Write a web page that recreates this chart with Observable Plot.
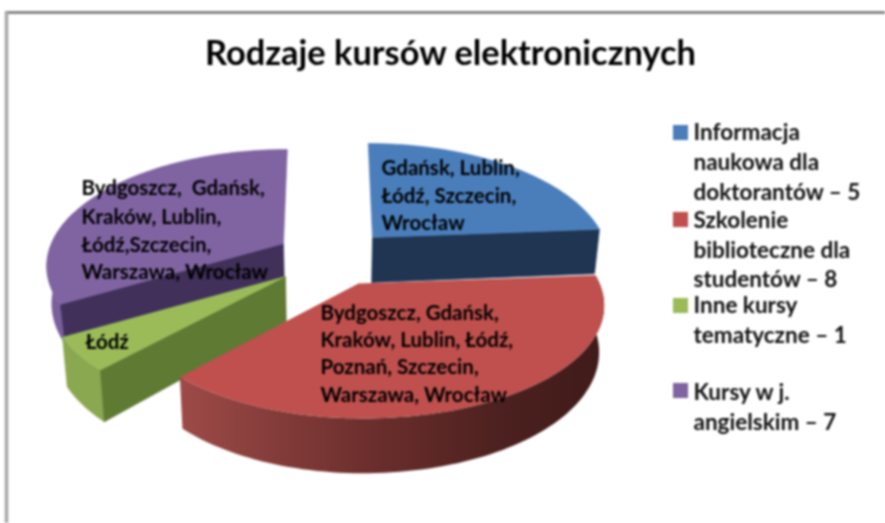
<!DOCTYPE html>
<html><head><meta charset="utf-8">
<script src="https://cdn.jsdelivr.net/npm/d3@7"></script>
<script src="https://cdn.jsdelivr.net/npm/@observablehq/plot@0.6"></script>
<style>html,body{margin:0;padding:0;background:#fff;overflow:hidden}</style>
</head><body><div id="chart"></div>
<script>
const courseValues = [5, 8, 1, 7];
const titleText = "Rodzaje kursów elektronicznych";
const sliceLabels = [
  ["Gdańsk, Lublin,", "Łódź, Szczecin,", "Wrocław"],
  ["Bydgoszcz, Gdańsk,", "Kraków, Lublin, Łódź,", "Poznań, Szczecin,", "Warszawa, Wrocław"],
  ["Łódź"],
  ["Bydgoszcz,\u00a0 Gdańsk,", "Kraków, Lublin,", "Łódź,Szczecin,", "Warszawa, Wrocław"]
];
const legendLabels = [
  ["Informacja", "naukowa dla", "doktorantów – 5"],
  ["Szkolenie", "biblioteczne dla", "studentów – 8"],
  ["Inne kursy", "tematyczne – 1"],
  ["Kursy w j.", "angielskim – 7"]
];
// styles
const topColors = ["#4a7ebb", "#bf504d", "#9bbb59", "#8064a2"];
const wallColors = ["#1f3552", "#6f302e", "#5f7a33", "#40305a"];
const outerColors = [null, null, "#8aa84f", "#7a5f9c"];
const redWallStops = [[182, "#9c4a47"], [358, "#6e302e"], [500, "#4c211f"], [603, "#3f1b19"]];
// layout
const apexX = [372, 358, 285, 283], apexY = [237, 283, 276, 243];
const radiusRight = [231, 241, 232, 232], radiusLeft = [231, 232, 232, 232];
const wallDepth = [45, 45, 45, 36];
const centerX = 325, persp = 5.59, radiusY = 110.8;
const labelX = [381, 320, 85, 81];
const labelY = [[168, 196, 223], [313, 340, 367, 395], [342], [188, 217, 245, 272]];
const legendY = [[132, 162, 192], [220, 250, 279], [305, 335], [392, 422]];
const swatchY = [132, 219, 305, 390];
const drawOrder = [3, 0, 2];

const arcs = d3.pie().sort(null).startAngle(0).endAngle(2 * Math.PI)(courseValues);

function rim(i, t) {
  const Z = Math.cos(t), S = Math.sin(t), f = persp / (persp + Z);
  const rx = S >= 0 ? radiusRight[i] : radiusLeft[i];
  return {
    x: apexX[i] + (apexX[i] - centerX) * (f - 1) * 0.6 + rx * S * f,
    y: apexY[i] - radiusY * Z * f, f
  };
}
const lower = i => p => ({x: p.x + (centerX - p.x) * 0.018, y: p.y + wallDepth[i] * p.f});
const apex = i => ({x: apexX[i], y: apexY[i], f: 1});
const rimPoints = i => {
  const a0 = arcs[i].startAngle, a1 = arcs[i].endAngle, n = 90;
  return d3.range(n + 1).map(k => rim(i, a0 + (a1 - a0) * k / n));
};

const polys = [];
let pid = 0;
function poly(points, color, list = polys) {
  const id = pid++;
  [...points, points[0]].forEach(p => list.push({id, x: p.x, y: p.y, color}));
}

for (const i of drawOrder) {
  const top = rimPoints(i), ap = apex(i), low = lower(i), n = top.length - 1;
  if (i === 3) {
    const part = top.slice(0, 36);
    poly([...part, ...part.map(low).reverse()], outerColors[3]);
    poly([ap, top[0], low(top[0]), low(ap)], wallColors[3]);
  }
  if (i === 0) poly([ap, top[n], low(top[n]), low(ap)], wallColors[0]);
  if (i === 2) {
    poly([...top, ...top.map(low).reverse()], outerColors[2]);
    poly([ap, top[0], low(top[0]), low(ap)], wallColors[2]);
  }
  poly([ap, ...top], topColors[i]);
}
const redRim = rimPoints(1);
const redWall = [], redTop = [];
poly([...redRim, ...redRim.map(lower(1)).reverse()], "url(#redWall)", redWall);
poly([apex(1), ...redRim], topColors[1], redTop);

const textRows = [];
sliceLabels.forEach((ls, i) => ls.forEach((t, j) => textRows.push({t, x: labelX[i], y: labelY[i][j]})));
const legendRows = [];
legendLabels.forEach((ls, i) => ls.forEach((t, j) => legendRows.push({t, x: 693, y: legendY[i][j]})));
const swatches = topColors.map((c, i) => ({c, x: 680, y: swatchY[i]}));

function gradientDefs() {
  const defs = d3.create("svg:defs");
  const g = defs.append("linearGradient").attr("id", "redWall").attr("gradientUnits", "userSpaceOnUse")
    .attr("x1", redWallStops[0][0]).attr("x2", redWallStops[redWallStops.length - 1][0]).attr("y1", 0).attr("y2", 0);
  const x0 = redWallStops[0][0], x1 = redWallStops[redWallStops.length - 1][0];
  redWallStops.forEach(([x, c]) => g.append("stop").attr("offset", (x - x0) / (x1 - x0)).attr("stop-color", c));
  return defs.node();
}

const font = "Lato, 'Noto Sans', sans-serif";
const chart = Plot.plot({
  width: 885, height: 523,
  margin: 0,
  x: {domain: [0, 885], range: [0, 885], axis: null},
  y: {domain: [0, 523], range: [0, 523], axis: null},
  color: {type: "identity"},
  style: {fontFamily: font, background: "#fff", filter: "blur(0.8px)"},
  marks: [
    gradientDefs,
    Plot.ruleY([12], {x1: 5, x2: 885, stroke: "#707070", strokeWidth: 2.5}),
    Plot.ruleX([6], {y1: 12, y2: 523, stroke: "#a8a8a8", strokeWidth: 3.5}),
    Plot.line(polys, {x: "x", y: "y", z: "id", fill: "color", stroke: "color", strokeWidth: 0.6, curve: "linear"}),
    Plot.line(redWall, {x: "x", y: "y", fill: "url(#redWall)", stroke: "none", curve: "linear"}),
    Plot.line(redTop, {x: "x", y: "y", fill: topColors[1], stroke: "none", curve: "linear"}),
    Plot.text(textRows, {x: "x", y: "y", text: "t", textAnchor: "start", lineAnchor: "middle", fontSize: 20.5, fontWeight: 700, fill: "#000"}),
    Plot.text(legendRows, {x: "x", y: "y", text: "t", textAnchor: "start", lineAnchor: "middle", fontSize: 22.5, fontWeight: 700, fill: "#111"}),
    Plot.dot(swatches, {x: "x", y: "y", symbol: "square", r: 8.5, fill: "c", stroke: null}),
    Plot.text([titleText], {x: () => 450, y: () => 53, text: d => d, textAnchor: "middle", lineAnchor: "middle", fontSize: 34.4, fontWeight: 700, fill: "#000"})
  ]
});
document.getElementById("chart").append(chart);
</script></body></html>
